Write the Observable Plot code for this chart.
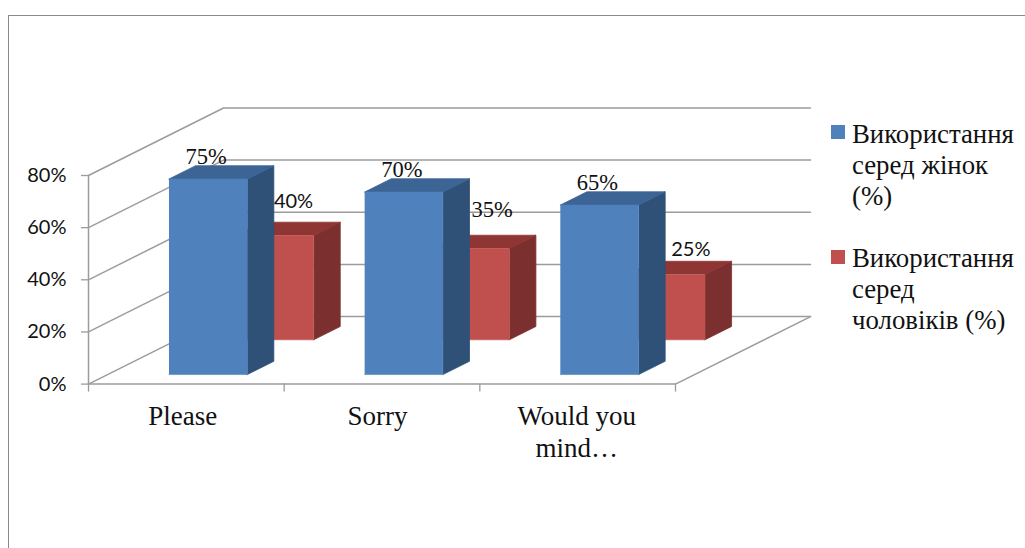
<!DOCTYPE html>
<html>
<head>
<meta charset="utf-8">
<script src="https://cdn.jsdelivr.net/npm/d3@7"></script>
<script src="https://cdn.jsdelivr.net/npm/@observablehq/plot@0.6"></script>
<style>
  html, body { margin: 0; padding: 0; background: #fff; }
  #wrap { position: relative; width: 1025px; height: 548px; overflow: hidden; }
  #wrap svg { position: absolute; left: 0; top: 0; background: transparent; }
  #frame { position: absolute; left: 8px; top: 15px; right: -4px; bottom: -4px; border-left: 1.4px solid #8a8a8a; border-top: 1.4px solid #8a8a8a; }
  .legend-item { position: absolute; left: 852px; font: 26.8px/31px "Liberation Serif", serif; color: #111; white-space: pre; }
  .swatch { position: absolute; left: 831px; width: 14px; height: 14px; }
</style>
</head>
<body>
<div id="wrap">
  <div id="frame"></div>
</div>
<script>
// ---- values ----
const categories = ["Please", "Sorry", "Would you\nmind…"];
const women = [75, 70, 65];
const men = [40, 35, 25];
const yTicks = [0, 20, 40, 60, 80];
const xTicks = [0, 1, 2, 3];
const legendWomen = "Використання\nсеред жінок\n(%)";
const legendMen = "Використання\nсеред\nчоловіків (%)";

// ---- oblique 3D projection, in data units ----
const depthX = 0.69;   // category units from front to back of the floor
const depthV = 25.9;   // percentage points from front to back of the floor
const barWidth = 0.4;
const barDepth = 0.197;
const project = (c, z, v) => ({x: c + z * depthX, y: v + z * depthV});

const serif = "Liberation Serif, serif";
const sans = "Lato, sans-serif";
const wall = {stroke: "#9c9c9c", strokeWidth: 1.5};

// walls and floor
const gridPts = yTicks.flatMap((v) => [
  {...project(0, 0, v), g: v},
  {...project(0, 1, v), g: v},
  {...project(3, 1, v), g: v}
]);
const floorPts = [project(0, 0, 0), project(3, 0, 0), project(3, 1, 0)];
const leftEdge = [project(0, 0, 0), project(0, 0, 80)];

// one column = three faces
function columnMarks(values, offset, z0, colors) {
  const z1 = z0 + barDepth;
  const front = values.flatMap((v, i) => [
    project(i + offset, z0, 0),
    project(i + offset + barWidth, z0, 0),
    project(i + offset + barWidth, z0, v),
    project(i + offset, z0, v)
  ].map((p) => ({...p, i})));
  const side = values.flatMap((v, i) => [
    project(i + offset + barWidth, z0, 0),
    project(i + offset + barWidth, z1, 0),
    project(i + offset + barWidth, z1, v),
    project(i + offset + barWidth, z0, v)
  ].map((p) => ({...p, i})));
  const top = values.flatMap((v, i) => [
    project(i + offset, z0, v),
    project(i + offset, z1, v),
    project(i + offset + barWidth, z1, v),
    project(i + offset + barWidth, z0, v)
  ].map((p) => ({...p, i})));
  return [
    Plot.line(side, {x: "x", y: "y", z: "i", fill: colors.side, stroke: colors.side, strokeWidth: 0.8}),
    Plot.line(top, {x: "x", y: "y", z: "i", fill: colors.top, stroke: colors.top, strokeWidth: 0.8}),
    Plot.line(front, {x: "x", y: "y", z: "i", fill: colors.front, stroke: colors.front, strokeWidth: 0.6})
  ];
}

const womenOffset = 0.314, womenZ = 0.141;
const menOffset = 0.298, menZ = 0.656;

function valueLabel(values, i, offset, z, font, size, dx, dy) {
  const p = project(i + offset + barWidth / 2, z, values[i]);
  return Plot.text([{...p, t: values[i] + "%"}], {
    x: "x", y: "y", text: "t", dx, dy, fontFamily: font, fontSize: size, fill: "#111"
  });
}
const categoryNudge = [-3.5, -4.5, -1];

const chart = Plot.plot({
  width: 1025,
  height: 548,
  marginLeft: 88,
  marginRight: 350,
  marginTop: 175,
  marginBottom: 164.4,
  x: {domain: [0, 3], axis: null},
  y: {domain: [0, 80], axis: null},
  style: {background: "transparent", overflow: "visible"},
  marks: [
    Plot.line(gridPts, {x: "x", y: "y", z: "g", ...wall}),
    Plot.line(floorPts, {x: "x", y: "y", ...wall}),
    Plot.line(leftEdge, {x: "x", y: "y", ...wall}),
    Plot.axisY(yTicks, {
      tickSize: 7, tickPadding: 15, tickFormat: (d) => d + "%", stroke: "#9c9c9c", strokeWidth: 1.3,
      fontSize: 20, fontFamily: sans, fill: "#111", label: null
    }),
    Plot.axisX(xTicks, {tickSize: 8, stroke: "#9c9c9c", strokeWidth: 1.3, fill: "none", label: null}),
    ...columnMarks(men, menOffset, menZ, {front: "#c0504d", side: "#7b302f", top: "#8f3634"}),
    ...columnMarks(women, womenOffset, womenZ, {front: "#4f81bd", side: "#2f5077", top: "#3c6494"}),
    valueLabel(women, 0, womenOffset, womenZ, serif, 22.5, -2, -22),
    valueLabel(women, 1, womenOffset, womenZ, serif, 22.5, -2, -22),
    valueLabel(women, 2, womenOffset, womenZ, serif, 22.5, -2, -22),
    valueLabel(men, 0, menOffset, menZ, sans, 20, 19, -34),
    valueLabel(men, 1, menOffset, menZ, serif, 22.5, 22, -39),
    valueLabel(men, 2, menOffset, menZ, sans, 20, 25, -25),
    ...categories.map((c, i) => Plot.text([{c: i + 0.5, t: c}], {
      x: "c", y: () => 0, text: "t", dy: 18, dx: categoryNudge[i],
      lineAnchor: "top", lineHeight: 1.2, fontFamily: serif, fontSize: 27, fill: "#111"
    }))
  ]
});
const wrap = document.getElementById("wrap");
wrap.appendChild(chart);

// legend
[[legendWomen, 125, 118.5, "#4f81bd"], [legendMen, 250, 243, "#c0504d"]].forEach(([txt, sy, ty, col]) => {
  const s = document.createElement("div");
  s.className = "swatch"; s.style.top = sy + "px"; s.style.background = col;
  const t = document.createElement("div");
  t.className = "legend-item"; t.style.top = ty + "px"; t.textContent = txt;
  wrap.append(s, t);
});
</script>
</body>
</html>
